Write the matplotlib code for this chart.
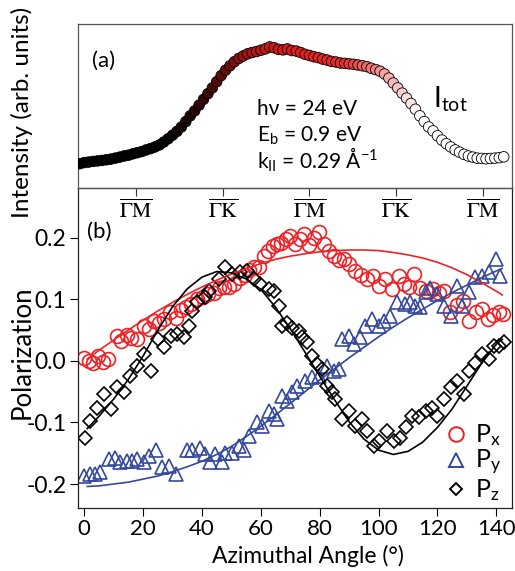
import numpy as np
import matplotlib
matplotlib.use('Agg')
import matplotlib.pyplot as plt
from matplotlib.colors import LinearSegmentedColormap
from matplotlib.lines import Line2D

plt.rcParams['font.family'] = ['Lato', 'DejaVu Sans']
plt.rcParams['mathtext.fontset'] = 'custom'
plt.rcParams['mathtext.rm'] = 'Lato'
plt.rcParams['mathtext.it'] = 'Lato:italic'
plt.rcParams['mathtext.bf'] = 'Lato:bold'

# ---------------- data ----------------
# (a) total intensity vs azimuthal angle
int_angle = [-1.5, 0, 1.5, 3, 4.5, 6, 7.5, 9, 10.5, 12, 13.5, 15, 16.5, 18, 19.5, 21, 22.5, 24,
             25.5, 27, 28.5, 30, 31.5, 33, 34.5, 36, 37.5, 39, 40.5, 42, 43.5, 45, 46.5, 48,
             49.5, 51, 52.5, 54, 55.5, 57, 58.5, 60, 61.5, 63, 64.5, 66, 67.5, 69, 70.5, 72,
             73.5, 75, 76.5, 78, 79.5, 81, 82.5, 84, 85.5, 87, 88.5, 90, 91.5, 93, 94.5, 96,
             97.5, 99, 100.5, 102, 103.5, 105, 106.5, 108, 109.5, 111, 112.5, 114, 115.5, 117,
             118.5, 120, 121.5, 123, 124.5, 126, 127.5, 129, 130.5, 132, 133.5, 135, 136.5,
             138, 139.5, 141, 142.5]
int_value = [0.148, 0.155, 0.158, 0.162, 0.165, 0.168, 0.172, 0.176, 0.182, 0.188, 0.195, 0.200,
             0.208, 0.215, 0.222, 0.232, 0.240, 0.250, 0.262, 0.280, 0.300, 0.322, 0.345, 0.372,
             0.405, 0.440, 0.470, 0.505, 0.540, 0.575, 0.610, 0.648, 0.685, 0.718, 0.745, 0.770,
             0.790, 0.805, 0.818, 0.826, 0.832, 0.840, 0.848, 0.860, 0.855, 0.845, 0.842, 0.848,
             0.838, 0.835, 0.826, 0.815, 0.808, 0.800, 0.795, 0.786, 0.780, 0.772, 0.768, 0.762,
             0.760, 0.757, 0.754, 0.750, 0.745, 0.740, 0.730, 0.722, 0.712, 0.695, 0.670, 0.640,
             0.610, 0.578, 0.548, 0.515, 0.480, 0.440, 0.405, 0.372, 0.348, 0.318, 0.292, 0.270,
             0.250, 0.232, 0.218, 0.205, 0.195, 0.188, 0.182, 0.180, 0.178, 0.180, 0.182, 0.185,
             0.190]

# high-symmetry directions (top-panel tick positions, degrees)
sym_angle = [17.6, 47.0, 76.5, 106.0, 135.5]
sym_label = [r'$\overline{\Gamma}\overline{\mathrm{M}}$', r'$\overline{\Gamma}\overline{\mathrm{K}}$',
             r'$\overline{\Gamma}\overline{\mathrm{M}}$', r'$\overline{\Gamma}\overline{\mathrm{K}}$',
             r'$\overline{\Gamma}\overline{\mathrm{M}}$']

# (b) spin polarization components
px_angle = [0, 1.5, 3, 4.5, 6.5, 8, 11, 12.5, 14.5, 16, 18, 20.3, 22, 23.8, 25.5, 27.2, 29, 31,
            32.8, 34.5, 36.2, 38.3, 40.5, 42, 44, 45.7, 47.5, 49.2, 51, 53, 54.5, 56, 57.8, 59.5,
            61, 62.5, 64, 65.5, 67, 68.5, 70, 71.7, 73.2, 74.8, 76.5, 78.2, 79.8, 81.4, 83, 84.8,
            86.5, 88.2, 90, 92, 94, 96, 98.2, 100.3, 102.3, 104.5, 106.8, 108.5, 110.2, 112,
            114, 116, 118.5, 120.5, 122.3, 124.3, 126.5, 128.7, 130.8, 133, 135, 137.2, 139,
            140.8, 142.3]
px_value = [0.004, 0.0, -0.004, 0.008, -0.002, 0.003, 0.041, 0.032, 0.042, 0.037, 0.035, 0.057,
            0.052, 0.064, 0.062, 0.068, 0.080, 0.070, 0.082, 0.088, 0.093, 0.100, 0.104, 0.108,
            0.110, 0.118, 0.120, 0.120, 0.124, 0.135, 0.140, 0.147, 0.153, 0.152, 0.170, 0.178,
            0.187, 0.190, 0.191, 0.198, 0.203, 0.190, 0.198, 0.206, 0.188, 0.200, 0.210, 0.190,
            0.179, 0.170, 0.163, 0.165, 0.158, 0.146, 0.140, 0.133, 0.138, 0.122, 0.133, 0.117,
            0.138, 0.125, 0.120, 0.141, 0.118, 0.114, 0.117, 0.110, 0.114, 0.079, 0.090, 0.098,
            0.065, 0.080, 0.084, 0.068, 0.075, 0.079, 0.076]

py_angle = [0, 2.1, 3.8, 5.5, 8.4, 10.6, 12.3, 14.6, 16.3, 18, 20.3, 22, 24.3, 26.5, 28.8, 31,
            35, 36.6, 39.4, 41.1, 42.8, 44.5, 46.8, 47.9, 50.2, 52.5, 54.2, 55.9, 58.7, 60.4,
            62.7, 64.4, 65.5, 67.2, 68.9, 70.6, 72.3, 75.1, 77.4, 79.7, 82.5, 84.8, 86.5, 87.6,
            89.9, 91.6, 93.8, 95.5, 97.8, 100.1, 101.8, 104, 106.3, 109.1, 110.8, 112.5, 114.2,
            116, 117.6, 119.9, 122.2, 124.5, 126.7, 128.4, 130.7, 132.9, 135.2, 137.5, 139.8,
            141.4]
py_value = [-0.187, -0.184, -0.183, -0.181, -0.160, -0.157, -0.165, -0.163, -0.163, -0.160,
            -0.165, -0.154, -0.144, -0.173, -0.171, -0.184, -0.144, -0.144, -0.141, -0.152,
            -0.165, -0.152, -0.165, -0.149, -0.149, -0.138, -0.144, -0.122, -0.100, -0.106,
            -0.081, -0.087, -0.095, -0.057, -0.065, -0.051, -0.041, -0.033, -0.027, -0.024,
            -0.008, -0.016, -0.013, 0.035, 0.041, 0.027, 0.038, 0.057, 0.068, 0.057, 0.065,
            0.073, 0.095, 0.092, 0.095, 0.089, 0.087, 0.111, 0.119, 0.108, 0.089, 0.073, 0.122,
            0.089, 0.111, 0.136, 0.138, 0.144, 0.165, 0.138]

pz_angle = [0.4, 2.1, 4.4, 6.7, 9, 11.2, 13.5, 15.7, 18, 20.3, 22.5, 25, 27.1, 29.3, 31.6, 33.9,
            35.6, 36.6, 38.3, 41.1, 42.3, 45.7, 47.9, 50.2, 53, 55.3, 57.6, 59.8, 62.7, 64.4,
            66.1, 67.2, 68.9, 70.6, 72.9, 74, 75.7, 77.4, 79.1, 80.8, 82.5, 84.2, 85.3, 87.6,
            89.9, 92.1, 94.4, 96.1, 98.4, 100.1, 102.9, 105.2, 107.4, 109.4, 111.4, 113.7, 116,
            118.2, 119.9, 122.2, 124.5, 126.7, 129, 130.7, 132.9, 135.2, 137.5, 139.2, 140.9,
            142.6]
pz_value = [-0.125, -0.098, -0.076, -0.054, -0.079, -0.043, -0.051, -0.024, -0.008, 0.011,
            -0.016, 0.035, 0.022, 0.041, 0.043, 0.038, 0.057, 0.081, 0.095, 0.103, 0.114, 0.133,
            0.152, 0.141, 0.144, 0.146, 0.133, 0.125, 0.117, 0.114, 0.089, 0.057, 0.062, 0.054,
            0.048, 0.038, 0.030, 0.008, -0.005, -0.013, -0.041, -0.051, -0.062, -0.095, -0.081,
            -0.106, -0.095, -0.114, -0.138, -0.130, -0.114, -0.130, -0.126, -0.108, -0.089,
            -0.092, -0.081, -0.076, -0.089, -0.062, -0.043, -0.033, -0.054, -0.016, -0.003,
            0.011, 0.003, 0.024, 0.024, 0.030]

# fitted curves
fit_angle = [1, 5, 10, 15, 20, 25, 30, 35, 40, 45, 50, 55, 60, 65, 70, 75, 80, 85, 90, 95, 100,
             105, 110, 115, 120, 125, 130, 135, 140, 142]
px_fit = [0.003, 0.017, 0.034, 0.050, 0.066, 0.081, 0.095, 0.108, 0.120, 0.131, 0.141, 0.150,
          0.158, 0.165, 0.170, 0.174, 0.177, 0.179, 0.180, 0.180, 0.179, 0.176, 0.172, 0.167,
          0.160, 0.151, 0.140, 0.127, 0.113, 0.107]
py_fit = [-0.204, -0.203, -0.200, -0.197, -0.192, -0.187, -0.180, -0.172, -0.163, -0.152,
          -0.139, -0.123, -0.106, -0.088, -0.069, -0.050, -0.031, -0.013, 0.005, 0.022, 0.039,
          0.055, 0.070, 0.084, 0.098, 0.111, 0.123, 0.135, 0.146, 0.150]
pz_fit = [-0.110, -0.090, -0.062, -0.030, 0.008, 0.050, 0.088, 0.117, 0.136, 0.145, 0.143,
          0.133, 0.116, 0.087, 0.052, 0.014, -0.025, -0.063, -0.099, -0.127, -0.145, -0.152,
          -0.147, -0.132, -0.108, -0.078, -0.041, -0.004, 0.027, 0.035]

legend_labels = [r'P$_{\mathrm{x}}$', r'P$_{\mathrm{y}}$', r'P$_{\mathrm{z}}$']

# ---------------- style ----------------
RED = '#ec2227'
BLUE = '#34489c'
BLACK = '#000000'
XLIM = (-2.3, 145.2)

cmap = LinearSegmentedColormap.from_list('itot', [
    (0.00, '#000000'), (0.22, '#080404'), (0.29, '#340808'), (0.34, '#640c0c'),
    (0.39, '#a01414'), (0.44, '#cc1a1a'), (0.52, '#e41f1f'), (0.62, '#e83030'),
    (0.67, '#f06868'), (0.71, '#f4a4a4'), (0.75, '#f9d2d2'), (0.79, '#ffffff'),
    (1.00, '#ffffff')])

fig = plt.figure(figsize=(5.15, 5.71), dpi=100)
ax2 = fig.add_axes([0.1505, 0.1103, 0.843, 0.5597])
ax1 = fig.add_axes([0.1505, 0.6708, 0.843, 0.2872])
ax1.set_zorder(5)
ax1.patch.set_alpha(0.0)

# ---- top panel ----
ax1.scatter(int_angle, int_value, c=int_angle, cmap=cmap, vmin=-2, vmax=145, s=58,
            edgecolors='black', linewidths=0.6, zorder=3)
ax1.set_xlim(*XLIM)
ax1.set_ylim(0, 1)
ax1.set_yticks([])
ax1.set_xticks(sym_angle)
ax1.set_xticklabels(sym_label, fontsize=15.5, math_fontfamily='stix')
ax1.tick_params(axis='x', direction='out', length=6, width=0.8, pad=1.5, colors='#333333',
                labelcolor='black')
for s in ax1.spines.values():
    s.set_color('#555555')
    s.set_linewidth(0.9)

ax1.text(0.033, 0.74, '(a)', transform=ax1.transAxes, fontsize=16)
ax1.text(0.818, 0.49, r'I$_{\mathrm{tot}}$', transform=ax1.transAxes, fontsize=20)
ax1.text(0.414, 0.445, 'hν = 24 eV', transform=ax1.transAxes, fontsize=15)
ax1.text(0.414, 0.282, r'E$_{\mathrm{b}}$ = 0.9 eV', transform=ax1.transAxes, fontsize=15)
ax1.text(0.414, 0.12, r'k$_{\mathrm{II}}$ = 0.29 Å$^{\mathrm{-1}}$', transform=ax1.transAxes,
         fontsize=15)

# ---- bottom panel ----
ax2.plot(px_angle, px_value, ls='none', marker='o', ms=10, mfc='none', mec=RED, mew=1.2,
         zorder=2)
ax2.plot(py_angle, py_value, ls='none', marker='^', ms=10.5, mfc='none', mec=BLUE, mew=1.2,
         zorder=2)
ax2.plot(pz_angle, pz_value, ls='none', marker='D', ms=7.5, mfc='none', mec=BLACK, mew=1.2,
         zorder=2)
ax2.plot(fit_angle, px_fit, color=RED, lw=1.2, zorder=3)
ax2.plot(fit_angle, py_fit, color=BLUE, lw=1.2, zorder=3)
ax2.plot(fit_angle, pz_fit, color=BLACK, lw=1.2, zorder=3)

ax2.set_xlim(*XLIM)
ax2.set_ylim(-0.239, 0.28)
ax2.set_xticks([0, 20, 40, 60, 80, 100, 120, 140])
ax2.set_xticklabels(['0', '20', '40', '60', '80', '100', '120', '140'], fontsize=16)
ax2.set_yticks([-0.2, -0.1, 0.0, 0.1, 0.2])
ax2.set_yticklabels(['-0.2', '-0.1', '0.0', '0.1', '0.2'], fontsize=16.5)
ax2.tick_params(direction='out', length=6, width=0.8, pad=2)
for s in ax2.spines.values():
    s.set_color('#222222')
    s.set_linewidth(0.9)

ax2.text(0.022, 0.845, '(b)', transform=ax2.transAxes, fontsize=16)

handles = [Line2D([], [], ls='none', marker='o', ms=10.5, mfc='none', mec=RED, mew=1.4),
           Line2D([], [], ls='none', marker='^', ms=10.5, mfc='none', mec=BLUE, mew=1.4),
           Line2D([], [], ls='none', marker='D', ms=6.5, mfc='none', mec=BLACK, mew=1.4)]
ax2.legend(handles, legend_labels, loc='lower right', bbox_to_anchor=(1.015, -0.04),
           frameon=False, fontsize=18, handletextpad=0.25, labelspacing=0.0,
           handlelength=1.0, borderpad=0.2)

fig.text(0.043, 1 - 112 / 571, 'Intensity (arb. units)', rotation=90, ha='center',
         va='center', fontsize=17.5)
fig.text(0.043, 1 - 352 / 571, 'Polarization', rotation=90, ha='center', va='center',
         fontsize=18.5)
fig.text(307.5 / 515, 1 - 556 / 571, 'Azimuthal Angle (°)', ha='center', va='center',
         fontsize=16.5)

fig.savefig('out.png', dpi=100)
